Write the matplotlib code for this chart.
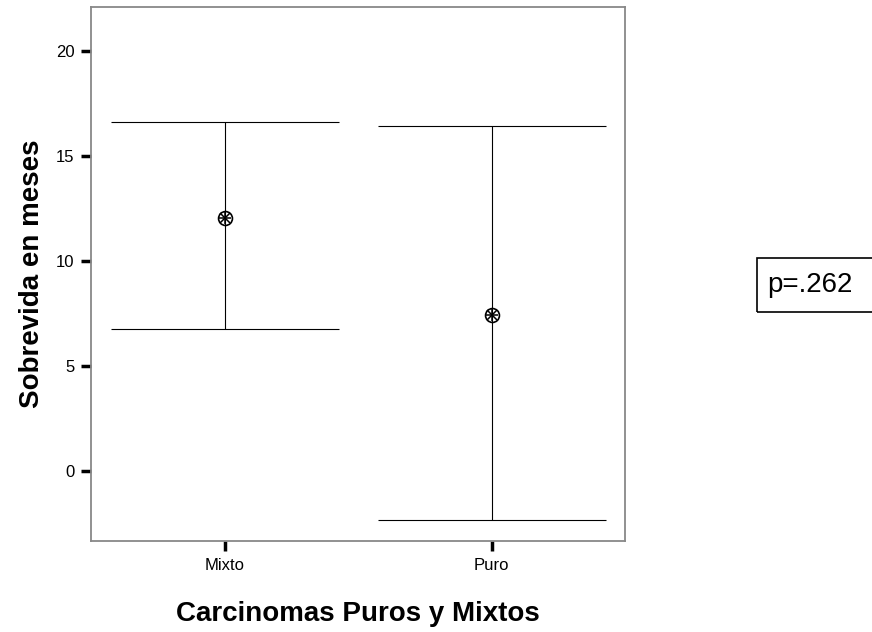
import matplotlib.pyplot as plt
from matplotlib.patches import Rectangle

plt.rcParams['font.family'] = ['Liberation Sans', 'DejaVu Sans']

# group means with lower / upper limits (meses)
groups = ['Mixto', 'Puro']
means = [12.05, 7.43]
lower = [6.76, -2.33]
upper = [16.62, 16.43]
p_text = 'p=.262'

fig = plt.figure(figsize=(8.72, 6.32), dpi=100)
ax = fig.add_axes([0.1044, 0.144, 0.6124, 0.845])

x = list(range(len(groups)))
yerr = [[m - lo for m, lo in zip(means, lower)],
        [hi - m for m, hi in zip(means, upper)]]
ax.errorbar(x, means, yerr=yerr, fmt='none', ecolor='black', elinewidth=0.8,
            capsize=82, capthick=0.8)
ax.plot(x, means, 'o', ms=10, mfc='none', mec='black', mew=1.2)
ax.plot(x, means, '+', ms=9, mec='black', mew=1.1)
ax.plot(x, means, 'x', ms=6.5, mec='black', mew=1.1)

ax.set_xlim(-0.5, 1.5)
ax.set_ylim(-3.33, 22.1)
ax.set_xticks(x)
ax.set_xticklabels(groups)
ax.set_yticks([0, 5, 10, 15, 20])
ax.tick_params(axis='both', direction='out', length=7, width=2.5, color='black',
               labelsize=12, pad=5)
for s in ax.spines.values():
    s.set_color('#888888')
    s.set_linewidth(1.3)

ax.set_ylabel('Sobrevida en meses', fontsize=20, fontweight='bold', va='center')
ax.yaxis.set_label_coords(-0.11, 0.5)
ax.set_xlabel('Carcinomas Puros y Mixtos', fontsize=20, fontweight='bold', va='center')
ax.xaxis.set_label_coords(0.5, -0.136)

# p-value box, cut at the right edge of the figure
fig.patches.append(Rectangle((757 / 872, 1 - 312 / 632), 0.2, 54 / 632,
                             transform=fig.transFigure, fill=False,
                             edgecolor='black', linewidth=1.2))
fig.text(767 / 872, 1 - 285 / 632, p_text, fontsize=20, va='center', ha='left')

fig.savefig('out.png', dpi=100)
